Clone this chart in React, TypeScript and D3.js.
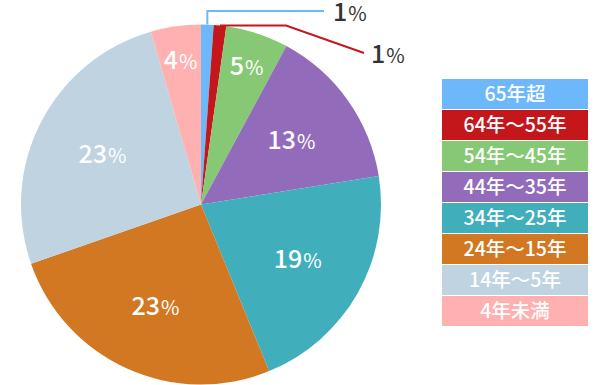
import React, { useEffect, useRef } from 'react';
import * as d3 from 'd3';

const categories = ['65年超', '64年〜55年', '54年〜45年', '44年〜35年', '34年〜25年', '24年〜15年', '14年〜5年', '4年未満'];
const values = [1, 1, 5, 13, 19, 23, 23, 4];
const colors = ['#6cb8fb', '#c4171c', '#86c874', '#926cbb', '#41aebc', '#d27822', '#c0d3e0', '#ffb0b0'];

const FONT = '"Noto Sans CJK JP", "Noto Sans", sans-serif';

const App = () => {
  const svgRef = useRef<SVGSVGElement>(null);
  const width = 610;
  const height = 385;
  const cx = 201;
  const cy = 204.5;
  const radius = 180;

  useEffect(() => {
    const svg = d3.select(svgRef.current);
    svg.selectAll('*').remove();

    const pie = d3.pie<number>().sort(null).value(d => d);
    const arcs = pie(values);
    const arc = d3.arc<d3.PieArcDatum<number>>().innerRadius(0).outerRadius(radius);

    const g = svg.append('g').attr('transform', `translate(${cx}, ${cy})`);

    g.selectAll('path')
      .data(arcs)
      .enter()
      .append('path')
      .attr('d', arc)
      .style('fill', (d, i) => colors[i]);

    // labels inside the slices (the two tiny ones get leader lines)
    const pos = (a: number, r: number) => [r * Math.sin(a), -r * Math.cos(a)];
    const addLabel = (sel, x: number, y: number, v: number, fill: string, anchor: string) => {
      const t = sel.append('text')
        .attr('x', x)
        .attr('y', y + 9)
        .attr('text-anchor', anchor)
        .style('font-family', FONT)
        .style('fill', fill);
      t.append('tspan').style('font-size', '25px').style('font-weight', 500).text(v);
      t.append('tspan').style('font-size', '20px').style('font-weight', 400).attr('dx', 1).text('%');
    };

    arcs.forEach((d, i) => {
      const mid = (d.startAngle + d.endAngle) / 2;
      if (i < 2) return;
      const r = d.value < 10 ? 146 : 111;
      const [x, y] = pos(mid, r);
      addLabel(g, x, y, d.value, '#fff', 'middle');
    });

    // leader lines for 65年超 and 64年〜55年
    const [bx, by] = pos((arcs[0].startAngle + arcs[0].endAngle) / 2, radius);
    g.append('path')
      .attr('d', `M${bx},${by}V${11 - cy}H${324 - cx}`)
      .style('fill', 'none')
      .style('stroke', colors[0])
      .style('stroke-width', 2);
    addLabel(g, 333 - cx, 11.5 - cy, values[0], '#333', 'start');

    const [rx, ry] = pos((arcs[1].startAngle + arcs[1].endAngle) / 2, radius);
    g.append('path')
      .attr('d', `M${rx},${ry}L${286 - cx},${ry}L${364 - cx},${53 - cy}`)
      .style('fill', 'none')
      .style('stroke', colors[1])
      .style('stroke-width', 2);
    addLabel(g, 371 - cx, 53.5 - cy, values[1], '#333', 'start');

    // legend
    const legend = svg.append('g').attr('transform', 'translate(442, 79)');
    const rows = legend.selectAll('g')
      .data(categories)
      .enter()
      .append('g')
      .attr('transform', (d, i) => `translate(0, ${i * 31})`);

    rows.append('rect')
      .attr('width', 146)
      .attr('height', 30)
      .style('fill', (d, i) => colors[i]);

    rows.append('text')
      .attr('x', 73)
      .attr('y', 22)
      .attr('text-anchor', 'middle')
      .style('font-family', FONT)
      .style('font-size', '19.5px')
      .style('font-weight', 500)
      .style('fill', '#fff')
      .text(d => d);
  }, []);

  return (
    <svg ref={svgRef} width={width} height={height} style={{ position: 'absolute', left: 0, top: 0, background: '#fff' }}></svg>
  );
};

export default App;
